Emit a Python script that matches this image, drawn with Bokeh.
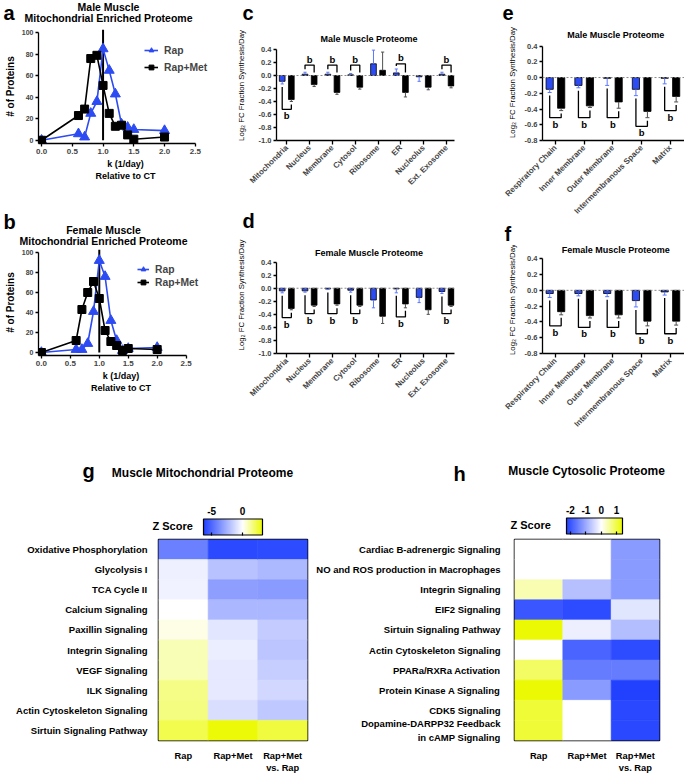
import math
from bokeh.plotting import figure
from bokeh.layouts import row, column
from bokeh.models import (Range1d, FixedTicker, PrintfTickFormatter, Legend, LegendItem, Span,
                          LinearColorMapper, ColorBar, FactorRange, ColumnDataSource)
from bokeh.core.properties import value
from bokeh.embed import file_html
from bokeh.resources import INLINE

FONT = "Liberation Sans"
BLUE = "#2D4BF2"
ERR_BLUE = "#5C78FF"
ERR_BLACK = "#505050"

# ---------------- data: panels a / b ----------------
k_bins = [0.0, 0.6, 0.7, 0.8, 0.9, 1.0, 1.1, 1.2, 1.3, 1.4, 1.5, 2.0]
male_rap = [0, 6, 3, 25, 36, 85, 65, 43, 15, 12, 10, 9]
male_rapmet = [0, 23, 29, 76, 79, 51, 25, 13, 14, 5, 1, 3]
female_rap = [0, 3, 3, 9, 41, 92, 76, 32, 12, 2, 4, 5]
female_rapmet = [0, 12, 43, 60, 71, 54, 22, 11, 7, 2, 4, 3]
k_ticks = [0.0, 0.5, 1.0, 1.5, 2.0, 2.5]
count_ticks = [0, 20, 40, 60, 80, 100]
ref_k = 1.0

# ---------------- data: panels c / d ----------------
compartments = ["Mitochondria", "Nucleus", "Membrane", "Cytosol", "Ribosome", "ER", "Nucleolus", "Ext. Exosome"]
c_rap = [-0.09, 0.02, 0.02, 0.01, 0.18, 0.04, -0.02, 0.02]
c_rap_err = [0.04, 0.03, 0.03, 0.02, 0.21, 0.06, 0.07, 0.03]
c_met = [-0.37, -0.14, -0.26, -0.18, 0.08, -0.26, -0.18, -0.16]
c_met_err = [0.03, 0.03, 0.03, 0.03, 0.28, 0.07, 0.04, 0.03]
c_sig = [-0.52, 0.16, 0.16, 0.16, None, 0.18, None, 0.16]

d_rap = [-0.04, -0.04, -0.01, -0.03, -0.18, -0.01, -0.14, -0.05]
d_rap_err = [0.03, 0.02, 0.01, 0.03, 0.12, 0.06, 0.08, 0.03]
d_met = [-0.31, -0.26, -0.24, -0.26, -0.43, -0.24, -0.33, -0.26]
d_met_err = [0.02, 0.02, 0.02, 0.02, 0.11, 0.06, 0.07, 0.02]
d_sig = [-0.45, -0.39, -0.39, -0.39, None, -0.44, None, -0.39]
cd_ticks = [0.4, 0.2, 0.0, -0.2, -0.4, -0.6, -0.8, -1.0]

# ---------------- data: panels e / f ----------------
subcompartments = ["Respiratory Chain", "Inner Membrane", "Outer Membrane", "Intermembranous Space", "Matrix"]
e_rap = [-0.15, -0.10, -0.01, -0.15, -0.01]
e_rap_err = [0.04, 0.03, 0.09, 0.08, 0.07]
e_met = [-0.39, -0.36, -0.31, -0.43, -0.24]
e_met_err = [0.03, 0.02, 0.08, 0.08, 0.07]
e_sig = [-0.51, -0.51, -0.51, -0.62, -0.42]

f_rap = [-0.04, -0.04, -0.04, -0.13, -0.02]
f_rap_err = [0.05, 0.03, 0.04, 0.08, 0.04]
f_met = [-0.27, -0.32, -0.31, -0.39, -0.39]
f_met_err = [0.04, 0.03, 0.04, 0.06, 0.05]
f_sig = [-0.45, -0.47, -0.47, -0.55, -0.55]
ef_ticks = [0.4, 0.2, 0.0, -0.2, -0.4, -0.6, -0.8]

# ---------------- data: heatmaps g / h ----------------
heat_cols = ["Rap", "Rap+Met", "Rap+Met\nvs. Rap"]
g_pathways = ["Oxidative Phosphorylation", "Glycolysis I", "TCA Cycle II", "Calcium Signaling",
              "Paxillin Signaling", "Integrin Signaling", "VEGF Signaling", "ILK Signaling",
              "Actin Cytoskeleton Signaling", "Sirtuin Signaling Pathway"]
g_rap = [-4.2, -0.48, -0.4, 0.0, 0.32, 0.9, 0.9, 1.5, 1.6, 2.2]
g_rapmet = [-6.0, -2.0, -3.2, -2.4, -0.82, -0.57, -0.7, -0.7, -1.1, 3.1]
g_vs = [-5.9, -2.3, -3.3, -2.4, -1.67, -1.9, -1.6, -1.3, -1.8, 2.4]
g_ticks = [-5, 0]

h_pathways = ["Cardiac B-adrenergic Signaling", "NO and ROS production in Macrophages",
              "Integrin Signaling", "EIF2 Signaling", "Sirtuin Signaling Pathway",
              "Actin Cytoskeleton Signaling", "PPARa/RXRa Activation", "Protein Kinase A Signaling",
              "CDK5 Signaling", "Dopamine-DARPP32 Feedback\nin cAMP Signaling"]
h_rap = [0.0, 0.0, 0.43, -1.99, 1.37, 0.0, 0.86, 1.37, 1.1, 1.1]
h_rapmet = [0.0, 0.0, -0.74, -2.13, -0.19, -1.84, -1.56, -1.18, 0.0, 0.0]
h_vs = [-1.18, -1.18, -1.18, -0.3, -0.77, -2.13, -1.56, -2.26, -2.17, -2.17]
h_ticks = [-2, -1, 0, 1]


# ---------------- helpers ----------------
def no_align(p):
    try:
        p.frame_align = False
    except AttributeError:
        pass


def base_fig(w, h, left, top, fw, fh, x_range, y_range):
    p = figure(width=w, height=h, x_range=x_range, y_range=y_range,
               min_border_left=left, min_border_top=top,
               min_border_right=w - left - fw, min_border_bottom=h - top - fh,
               toolbar_location=None, output_backend="svg", title=None)
    p.xgrid.grid_line_color = None
    p.ygrid.grid_line_color = None
    p.outline_line_color = None
    no_align(p)
    return p


def strip(w, h):
    """Text-only band: its frame covers the whole figure, coordinates are pixels from top-left."""
    p = figure(width=w, height=h, x_range=Range1d(0, w), y_range=Range1d(h, 0),
               x_axis_location=None, y_axis_location=None, min_border=0,
               min_border_left=0, min_border_right=0, min_border_top=0, min_border_bottom=0,
               toolbar_location=None, output_backend="svg", title=None)
    p.outline_line_color = None
    p.grid.grid_line_color = None
    no_align(p)
    return p


def put_text(p, x, y, txt, size, align="center", baseline="middle", style="bold"):
    p.text(x=[x], y=[y], text=[txt], text_font=value(FONT), text_font_size=size,
           text_font_style=style, text_align=align, text_baseline=baseline, text_color="black")


def put_letter(p, x, base_y, txt):
    # 20px bold panel letter; base_y is where the letter's baseline should sit
    put_text(p, x, base_y - 7, txt, "20px", align="left", baseline="middle")


def style_axes(p, tick_size="7.5px"):
    for ax in p.axis:
        ax.axis_line_width = 1.3
        ax.major_tick_line_width = 1.3
        ax.major_tick_in = 0
        ax.major_tick_out = 3
        ax.minor_tick_line_color = None
        ax.major_label_text_font = FONT
        ax.major_label_text_font_style = "bold"
        ax.major_label_text_font_size = tick_size
        ax.major_label_standoff = 2
        ax.axis_label_text_font = FONT
        ax.axis_label_text_color = "black"


def dist_panel(w, h, left, top, fw, fh, xend, rap, met, leg_x, leg_y, leg_spacing, glyph_w):
    ylo, yhi = -3, 103
    p = base_fig(w, h, left, top, fw, fh, Range1d(-0.05, xend), Range1d(ylo, yhi))
    style_axes(p)
    p.segment(x0=[ref_k], y0=[0], x1=[ref_k], y1=[yhi], line_color="black", line_width=2)
    r1 = p.line(k_bins, rap, line_color=BLUE, line_width=1.6)
    r2 = p.scatter(k_bins, rap, marker="triangle", size=10, fill_color=BLUE, line_color=BLUE)
    m1 = p.line(k_bins, met, line_color="black", line_width=1.6)
    m2 = p.scatter(k_bins, met, marker="square", size=8, fill_color="black", line_color="black")
    xa = p.xaxis[0]
    ya = p.yaxis[0]
    xa.ticker = FixedTicker(ticks=k_ticks)
    xa.formatter = PrintfTickFormatter(format="%.1f")
    xa.bounds = (-0.05, k_ticks[-1])
    xa.major_label_text_font_size = "8px"
    ya.ticker = FixedTicker(ticks=count_ticks)
    ya.bounds = (ylo, count_ticks[-1])
    ya.major_label_text_font_size = "7px"
    xa.axis_label = "k (1/day)\nRelative to CT"
    xa.axis_label_text_font_size = "9px"
    xa.axis_label_text_font_style = "bold"
    xa.axis_label_standoff = 2
    ya.axis_label = "# of Proteins"
    ya.axis_label_text_font_size = "10px"
    ya.axis_label_text_font_style = "bold"
    ya.axis_label_standoff = 3
    leg = Legend(items=[LegendItem(label="Rap", renderers=[r1, r2]),
                        LegendItem(label="Rap+Met", renderers=[m1, m2])],
                 location=(leg_x, leg_y), label_text_font=FONT, label_text_font_style="bold",
                 label_text_font_size="10.3px", glyph_width=glyph_w, glyph_height=12, label_height=12,
                 spacing=leg_spacing, padding=0, margin=0, border_line_color=None,
                 background_fill_alpha=0, label_standoff=6)
    p.add_layout(leg)
    return p


def bar_panel(w, h, left, top, fw, fh, cats, rap, rap_err, met, met_err, sig, ylo, yticks, ytop, xend,
              ylab_standoff, title, title_dy):
    p = base_fig(w, h, left, top, fw, fh, Range1d(-0.45, xend), Range1d(ylo, ytop))
    style_axes(p)
    scale = fh / (ytop - ylo)
    p.add_layout(Span(location=0, dimension="width", line_color="#8a8a8a", line_dash="2 2",
                      line_width=1))
    n = len(cats)
    xb = [i - 0.2 for i in range(n)]
    xm = [i + 0.2 for i in range(n)]
    rap_end = [v + (e if v > 0 else -e) for v, e in zip(rap, rap_err)]
    met_end = [v + (e if v > 0 else -e) for v, e in zip(met, met_err)]
    p.vbar(x=xb, top=rap, bottom=0, width=0.25, fill_color=BLUE, line_color="black", line_width=0.8)
    p.vbar(x=xm, top=met, bottom=0, width=0.25, fill_color="black", line_color="black", line_width=0.8)
    cap = 0.07
    for xs, vals, ends, col in ((xb, rap, rap_end, ERR_BLUE), (xm, met, met_end, ERR_BLACK)):
        p.segment(x0=xs, y0=vals, x1=xs, y1=ends, line_color=col, line_width=1)
        p.segment(x0=[x - cap for x in xs], y0=ends, x1=[x + cap for x in xs], y1=ends,
                  line_color=col, line_width=1)
    gap = 3.0 / scale
    bxs, bys = [], []
    below_x, below_y, above_x, above_y = [], [], [], []
    for i, lev in enumerate(sig):
        if lev is None:
            continue
        if lev < 0:
            l0 = min(rap[i], rap_end[i]) - gap
            r0 = min(met[i], met_end[i]) - gap
            below_x.append(i)
            below_y.append(lev - 1.0 / scale)
        else:
            l0 = max(rap[i], rap_end[i], 0) + gap
            r0 = max(met[i], met_end[i], 0) + gap
            above_x.append(i)
            above_y.append(lev + 0.5 / scale)
        bxs.append([xb[i], xb[i], xm[i], xm[i]])
        bys.append([l0, lev, lev, r0])
    p.multi_line(xs=bxs, ys=bys, line_color="black", line_width=1.3)
    if below_x:
        p.text(x=below_x, y=below_y, text=["b"] * len(below_x), text_font=value(FONT),
               text_font_style="bold", text_font_size="9.5px", text_align="center", text_baseline="top")
    if above_x:
        p.text(x=above_x, y=above_y, text=["b"] * len(above_x), text_font=value(FONT),
               text_font_style="bold", text_font_size="9.5px", text_align="center",
               text_baseline="bottom")
    # panel title, placed in the headroom of the frame above the 0.4 tick
    p.text(x=[(n - 1) / 2 + 0.1], y=[yticks[0] + title_dy / scale], text=[title],
           text_font=value(FONT), text_font_style="bold", text_font_size="9px",
           text_align="center", text_baseline="middle")
    xa = p.xaxis[0]
    ya = p.yaxis[0]
    xa.ticker = FixedTicker(ticks=list(range(n)))
    xa.major_label_overrides = {i: c for i, c in enumerate(cats)}
    xa.major_label_orientation = math.pi / 4
    xa.major_label_text_font_size = "8px"
    xa.major_tick_out = 4
    ya.ticker = FixedTicker(ticks=yticks)
    ya.formatter = PrintfTickFormatter(format="%.1f")
    ya.bounds = (ylo, yticks[0])
    ya.axis_label = "Log\u2082 FC Fraction Synthesis/Day"
    ya.axis_label_text_font_size = "7.8px"
    ya.axis_label_text_font_style = "normal"
    ya.axis_label_standoff = ylab_standoff
    return p


def make_palette(low, high, n=256):
    blue = (32, 64, 255)
    yellow = (235, 250, 0)
    pal = []
    for i in range(n):
        v = low + (i + 0.5) / n * (high - low)
        if v < 0:
            t, c = v / low, blue
        else:
            t, c = v / high, yellow
        rgb = tuple(int(round(255 + (ci - 255) * t)) for ci in c)
        pal.append("#%02x%02x%02x" % rgb)
    return pal


def heat_panel(w, h, left, top, fw, fh, rows, vals, mapper, ylab_standoff):
    p = base_fig(w, h, left, top, fw, fh, FactorRange(factors=heat_cols),
                 FactorRange(factors=rows[::-1]))
    xs, ys, zs = [], [], []
    for j, c in enumerate(heat_cols):
        for i, r in enumerate(rows):
            xs.append(c)
            ys.append(r)
            zs.append(vals[j][i])
    src = ColumnDataSource(dict(x=xs, y=ys, z=zs))
    p.rect("x", "y", width=1, height=1, source=src,
           fill_color={"field": "z", "transform": mapper},
           line_color={"field": "z", "transform": mapper}, line_width=0.6)
    p.outline_line_color = "black"
    p.outline_line_width = 1.5
    for ax in p.axis:
        ax.axis_line_color = None
        ax.major_tick_line_color = None
        ax.minor_tick_line_color = None
        ax.major_label_text_font = FONT
        ax.major_label_text_font_style = "bold"
        ax.major_label_text_color = "black"
    p.xaxis.major_label_text_font_size = "9.3px"
    p.xaxis.major_label_standoff = 4
    p.yaxis.major_label_text_font_size = "9.5px"
    p.yaxis.major_label_standoff = ylab_standoff
    return p


def heat_strip(w, h, mapper, low, high, ticks, cb_x, cb_w, bar_top, tick_y, title, title_x, title_y,
               letter, letter_x, letter_base, zs_x):
    s = strip(w, h)
    cb = ColorBar(color_mapper=mapper, orientation="horizontal",
                  location=(cb_x, h - bar_top - 16 - 1.5),
                  width=cb_w, height=16, padding=0, margin=0, ticker=FixedTicker(ticks=ticks),
                  major_label_text_font_size="1px", major_label_text_color=None, label_standoff=0,
                  major_tick_in=3, major_tick_out=0, major_tick_line_color="black",
                  major_tick_line_width=1.2, minor_tick_line_color=None,
                  bar_line_color="black", bar_line_width=1.2,
                  background_fill_color=None, border_line_color=None)
    s.add_layout(cb)
    for t in ticks:
        put_text(s, cb_x + (t - low) / (high - low) * cb_w, tick_y, "%g" % t, "10px")
    put_text(s, zs_x, bar_top + 8, "Z Score", "11px", align="left")
    put_text(s, title_x, title_y, title, "12px")
    put_letter(s, letter_x, letter_base, letter)
    return s


# ---------------- column 1: panels a / b ----------------
a_strip = strip(225, 24)
put_letter(a_strip, 3, 19, "a")
put_text(a_strip, 108, 6.5, "Male Muscle", "10.5px")
put_text(a_strip, 108, 17.5, "Mitochondrial Enriched Proteome", "10.5px")
a_plot = dist_panel(225, 176, 38, 5, 174, 114, 2.78, male_rap, male_rapmet, 106, 70, 5, 14)

b_strip = strip(225, 47)
put_letter(b_strip, 3, 28, "b")
put_text(b_strip, 103, 29, "Female Muscle", "10.5px")
put_text(b_strip, 103, 40.5, "Mitochondrial Enriched Proteome", "10.5px")
b_plot = dist_panel(225, 193, 38, 2, 165, 106, 2.8, female_rap, female_rapmet, 99, 67, 1, 12)

# ---------------- column 2: panels c / d ----------------
c_strip = strip(230, 25)
put_letter(c_strip, 17, 19, "c")
c_plot = bar_panel(230, 175, 51, 5, 178, 110, compartments, c_rap, c_rap_err, c_met, c_met_err, c_sig,
                   -1.0, cd_ticks, 0.692, 7.35, 10, "Male Muscle Proteome", 10)

d_strip = strip(230, 31)
put_letter(d_strip, 17, 27, "d")
d_plot = bar_panel(230, 209, 51, 5, 178, 117, compartments, d_rap, d_rap_err, d_met, d_met_err, d_sig,
                   -1.0, cd_ticks, 0.793, 7.35, 10, "Female Muscle Proteome", 9)

# ---------------- column 3: panels e / f ----------------
e_strip = strip(229, 24)
put_letter(e_strip, 47, 19, "e")
e_plot = bar_panel(229, 197, 87, 0, 142, 117, subcompartments, e_rap, e_rap_err, e_met, e_met_err, e_sig,
                   -0.8, ef_ticks, 0.674, 4.49, 5, "Male Muscle Proteome", 10.7)

f_strip = strip(229, 24)
put_letter(f_strip, 49, 19, "f")
f_plot = bar_panel(229, 195, 87, 0, 142, 108, subcompartments, f_rap, f_rap_err, f_met, f_met_err, f_sig,
                   -0.8, ef_ticks, 0.568, 4.49, 5, "Female Muscle Proteome", 8.3)

# ---------------- bottom row: heatmaps g / h ----------------
g_low, g_high = -6.3, 3.2
h_low, h_high = -2.26, 1.39
g_mapper = LinearColorMapper(palette=make_palette(g_low, g_high), low=g_low, high=g_high)
h_mapper = LinearColorMapper(palette=make_palette(h_low, h_high), low=h_low, high=h_high)

g_strip = heat_strip(313, 97, g_mapper, g_low, g_high, g_ticks, 203, 59, 77, 70,
                     "Muscle Mitochondrial Proteome", 202, 32, "g", 82, 37, 152)
g_plot = heat_panel(313, 238, 158, 2, 149, 213, g_pathways, [g_rap, g_rapmet, g_vs], g_mapper, 5)

h_strip = heat_strip(372, 97, h_mapper, h_low, h_high, h_ticks, 253, 56, 76, 69,
                     "Muscle Cytosolic Proteome", 273, 30, "h", 140, 40, 197)
h_plot = heat_panel(372, 238, 198, 2, 148, 213, h_pathways, [h_rap, h_rapmet, h_vs], h_mapper, 8)

col_a = column(a_strip, a_plot, b_strip, b_plot)
col_c = column(c_strip, c_plot, d_strip, d_plot)
col_e = column(e_strip, e_plot, f_strip, f_plot)
layout = column(row(col_a, col_c, col_e), row(column(g_strip, g_plot), column(h_strip, h_plot)))

open("out.html", "w").write(file_html(layout, INLINE))
